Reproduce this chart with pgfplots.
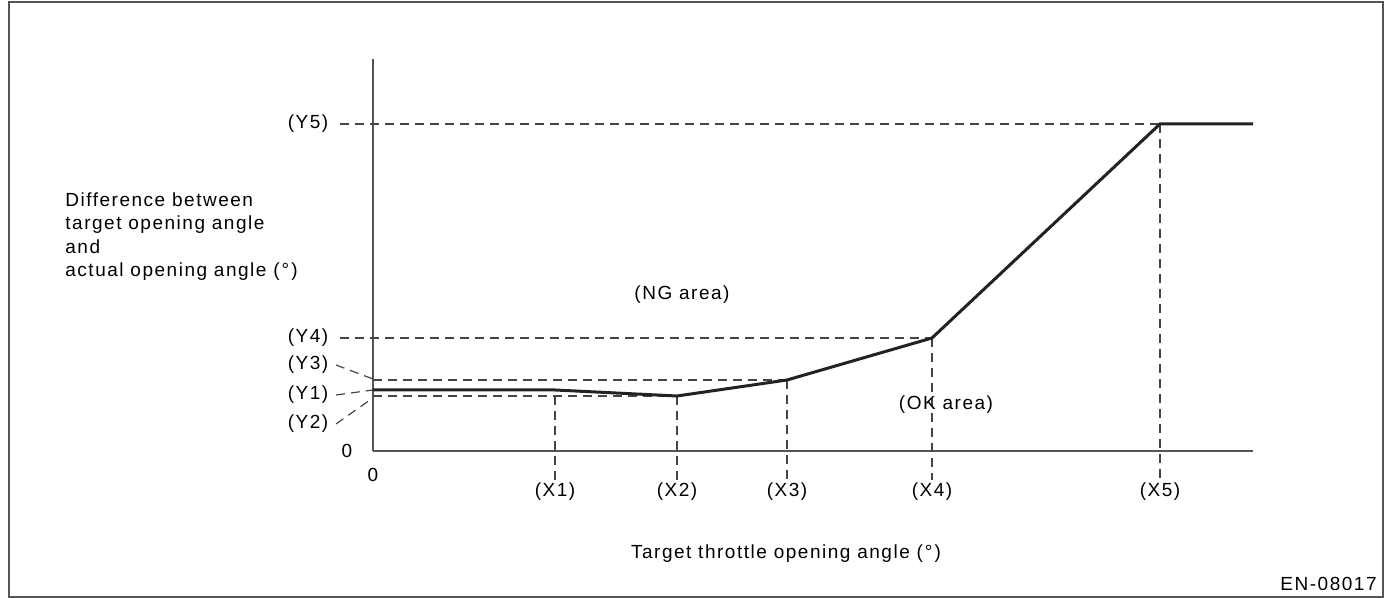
\documentclass[border=0pt]{standalone}
\usepackage{fontspec}
\setmainfont{Liberation Sans}[LetterSpace=8]
\usepackage{pgfplots}
\pgfplotsset{compat=1.18}
\definecolor{ln}{HTML}{222222}
\definecolor{dsh}{HTML}{444444}
\definecolor{ax}{HTML}{555555}
\begin{document}
\fontsize{9.5}{11.75}\selectfont
\begin{tikzpicture}
\begin{axis}[
  x=0.5pt, y=0.5pt,
  xmin=0, xmax=880, ymin=0, ymax=392,
  axis lines=left,
  axis line style={-, color=ax, line width=1pt},
  xtick=\empty, ytick=\empty,
  clip=false,
  every node/.style={font=\fontsize{9.5}{11.75}\selectfont, text=black!85},
]
% bounding rectangle and frame
\path (axis cs:-373,451) rectangle (axis cs:1017,-147);
\draw[ax, line width=1pt] (axis cs:-364,449) rectangle (axis cs:1010,-146);
% dashed guides
\addplot[dsh, dash pattern=on 4.5pt off 3pt, line width=0.6pt] coordinates {(-33,327) (787,327)};
\addplot[dsh, dash pattern=on 4.5pt off 3pt, line width=0.6pt] coordinates {(-33,113) (559,113)};
\addplot[dsh, dash pattern=on 4.5pt off 3pt, line width=0.6pt] coordinates {(0,71) (414,71)};
\addplot[dsh, dash pattern=on 4.5pt off 3pt, line width=0.6pt] coordinates {(0,55) (304,55)};
\addplot[dsh, dash pattern=on 4.5pt off 3pt, line width=0.6pt] coordinates {(-37,86) (0,72)};
\addplot[dsh, dash pattern=on 4.5pt off 3pt, line width=0.6pt] coordinates {(-37,56) (0,61)};
\addplot[dsh, dash pattern=on 4.5pt off 3pt, line width=0.6pt] coordinates {(-37,27) (-3,51)};
\addplot[dsh, dash pattern=on 4.5pt off 3pt, line width=0.6pt] coordinates {(182,55) (182,-29)};
\addplot[dsh, dash pattern=on 4.5pt off 3pt, line width=0.6pt] coordinates {(304,55) (304,-29)};
\addplot[dsh, dash pattern=on 4.5pt off 3pt, line width=0.6pt] coordinates {(414,71) (414,-29)};
\addplot[dsh, dash pattern=on 4.5pt off 3pt, line width=0.6pt] coordinates {(559,113) (559,-29)};
\addplot[dsh, dash pattern=on 4.5pt off 3pt, line width=0.6pt] coordinates {(787,327) (787,-29)};
% main curve
\addplot[ln, line width=1.5pt, line join=miter] coordinates {
  (0,61) (182,61) (304,55) (414,71) (559,113) (787,327) (880,327)};
% labels
\node[anchor=east] at (axis cs:-38,327) {(Y5)};
\node[anchor=east] at (axis cs:-38,113) {(Y4)};
\node[anchor=east] at (axis cs:-38,86) {(Y3)};
\node[anchor=east] at (axis cs:-38,56) {(Y1)};
\node[anchor=east] at (axis cs:-38,27) {(Y2)};
\node[anchor=east] at (axis cs:-14,0) {0};
\node at (axis cs:0,-24) {0};
\node at (axis cs:182,-41) {(X1)};
\node at (axis cs:304,-41) {(X2)};
\node at (axis cs:414,-41) {(X3)};
\node at (axis cs:559,-41) {(X4)};
\node at (axis cs:787,-41) {(X5)};
\node at (axis cs:309,156) {(NG area)};
\node at (axis cs:573,46) {(OK area)};
\node at (axis cs:413,-103) {Target throttle opening angle (\kern1pt°\kern1pt)};
\node[anchor=base east, inner sep=0pt] at (axis cs:1004,-140) {EN-08017};
\node[anchor=north west, align=left, inner sep=0pt] at (axis cs:-308,259)
  {Difference between\\target opening angle\\and\\actual opening angle (\kern1pt°\kern1pt)};
\end{axis}
\end{tikzpicture}
\end{document}
